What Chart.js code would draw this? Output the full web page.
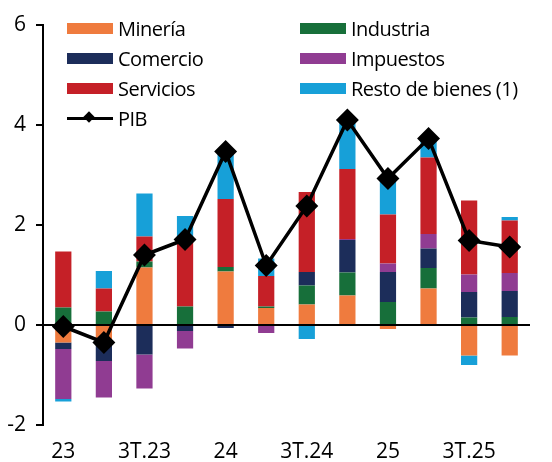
<!DOCTYPE html>
<html>
<head>
<meta charset="utf-8">
<script src="https://cdn.jsdelivr.net/npm/chart.js@4"></script>
<style>
  html, body { margin: 0; padding: 0; background: #fff; }
  #wrap { position: relative; width: 552px; height: 462px; font-family: "Open Sans", sans-serif; }
  #wrap canvas { position: absolute; left: 0; top: 0; }
  .lg { position: absolute; display: flex; align-items: center; font-size: 20px; letter-spacing: -0.5px; color: #000; white-space: nowrap; height: 30px; }
  .lg .sw { width: 46px; height: 11px; margin-right: 5px; }
  .lg .ln { position: relative; width: 46px; height: 3px; background: #000; margin-right: 5px; }
  .lg .ln i { position: absolute; left: 18px; top: -4px; width: 8px; height: 8px; background: #000; transform: rotate(45deg); }
</style>
</head>
<body>
<div id="wrap">
  <canvas id="chart" width="552" height="462"></canvas>
  <div id="legend"></div>
</div>
<script>
const categories = ['23', '2T.23', '3T.23', '4T.23', '24', '2T.24', '3T.24', '4T.24', '25', '2T.25', '3T.25', '4T.25'];
const tickLabels = ['23', '', '3T.23', '', '24', '', '3T.24', '', '25', '', '3T.25', ''];

const mineria   = [-0.35, -0.33, 1.15, 0, 1.07, 0.34, 0.41, 0.59, -0.08, 0.73, -0.61, -0.61];
const industria = [0.35, 0.27, 0.12, 0.37, 0.09, 0.03, 0.38, 0.46, 0.46, 0.41, 0.15, 0.16];
const comercio  = [-0.13, -0.39, -0.59, -0.12, -0.06, 0, 0.27, 0.65, 0.6, 0.39, 0.51, 0.52];
const impuestos = [-1.0, -0.73, -0.68, -0.35, 0, -0.16, 0, 0.02, 0.17, 0.29, 0.35, 0.36];
const servicios = [1.12, 0.46, 0.5, 1.35, 1.36, 0.61, 1.6, 1.4, 0.98, 1.53, 1.48, 1.05];
const resto     = [-0.05, 0.35, 0.86, 0.46, 0.99, 0.35, -0.28, 1.0, 0.76, 0.35, -0.19, 0.07];
const pib       = [-0.03, -0.35, 1.4, 1.71, 3.47, 1.19, 2.38, 4.1, 2.93, 3.73, 1.69, 1.56];

const yTicks = [-2, 0, 2, 4, 6];

const colors = {
  mineria: '#ef7b3e',
  industria: '#176f3a',
  comercio: '#1c2d5a',
  impuestos: '#903c92',
  servicios: '#c52027',
  resto: '#17a0d8',
  pib: '#000000'
};

const FONT = '"Open Sans", sans-serif';

function bar(label, data, color) {
  return {
    type: 'bar',
    label: label,
    data: data,
    backgroundColor: color,
    borderWidth: 0,
    stack: 's',
    order: 1,
    barPercentage: 0.8,
    categoryPercentage: 0.5
  };
}

// zero line sits between the bars and the PIB line
const zeroLine = {
  id: 'zeroLine',
  beforeDatasetDraw(chart, args) {
    if (args.meta.type !== 'line') return;
    const { ctx, chartArea, scales } = chart;
    const y = scales.y.getPixelForValue(0);
    ctx.save();
    ctx.strokeStyle = '#000';
    ctx.lineWidth = 2;
    ctx.beginPath();
    ctx.moveTo(chartArea.left - 7, y);
    ctx.lineTo(chartArea.right, y);
    ctx.stroke();
    ctx.restore();
  }
};

new Chart(document.getElementById('chart'), {
  data: {
    labels: categories,
    datasets: [
      bar('Minería', mineria, colors.mineria),
      bar('Industria', industria, colors.industria),
      bar('Comercio', comercio, colors.comercio),
      bar('Impuestos', impuestos, colors.impuestos),
      bar('Servicios', servicios, colors.servicios),
      bar('Resto de bienes (1)', resto, colors.resto),
      {
        type: 'line',
        label: 'PIB',
        data: pib,
        borderColor: colors.pib,
        backgroundColor: colors.pib,
        borderWidth: 3.5,
        pointStyle: 'rectRot',
        pointRadius: 9,
        pointHoverRadius: 9,
        tension: 0,
        order: 0
      }
    ]
  },
  options: {
    responsive: false,
    animation: false,
    layout: { padding: { top: 25, right: 22, bottom: 0, left: 0 } },
    plugins: {
      legend: { display: false },
      tooltip: { enabled: false }
    },
    scales: {
      x: {
        stacked: true,
        afterFit: s => { s.height = 37; },
        grid: { display: false, drawTicks: false },
        border: { display: false },
        ticks: {
          autoSkip: false,
          maxRotation: 0,
          padding: 14,
          color: '#000',
          font: { family: FONT, size: 21 },
          callback: (v, i) => tickLabels[i]
        }
      },
      y: {
        stacked: true,
        min: -2,
        max: 6,
        afterFit: s => { s.width = 43; },
        afterBuildTicks: s => { s.ticks = yTicks.map(v => ({ value: v })); },
        grid: { drawOnChartArea: false, drawTicks: true, tickLength: 7, color: '#000', lineWidth: 2 },
        border: { display: true, color: '#000', width: 2 },
        ticks: {
          padding: 10,
          color: '#000',
          font: { family: FONT, size: 21 }
        }
      }
    }
  },
  plugins: [zeroLine]
});

// legend laid out in two columns like the original
const legendItems = [
  { label: 'Minería', color: colors.mineria, col: 0, row: 0 },
  { label: 'Industria', color: colors.industria, col: 1, row: 0 },
  { label: 'Comercio', color: colors.comercio, col: 0, row: 1 },
  { label: 'Impuestos', color: colors.impuestos, col: 1, row: 1 },
  { label: 'Servicios', color: colors.servicios, col: 0, row: 2 },
  { label: 'Resto de bienes (1)', color: colors.resto, col: 1, row: 2 },
  { label: 'PIB', line: true, col: 0, row: 3 }
];
const legendEl = document.getElementById('legend');
legendItems.forEach(it => {
  const d = document.createElement('div');
  d.className = 'lg';
  d.style.left = (it.col ? 300 : 67) + 'px';
  d.style.top = (13 + it.row * 30) + 'px';
  d.innerHTML = (it.line ? '<span class="ln"><i></i></span>' : `<span class="sw" style="background:${it.color}"></span>`) + `<span>${it.label}</span>`;
  legendEl.appendChild(d);
});
</script>
</body>
</html>
